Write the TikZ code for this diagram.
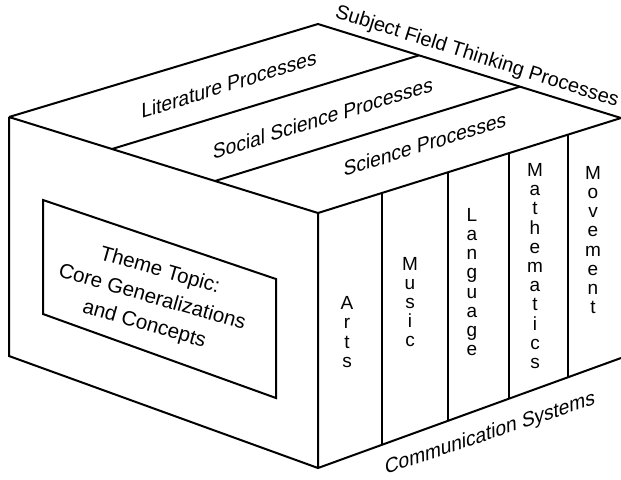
\documentclass[tikz,border=0pt]{standalone}
\usepackage{fontspec}
\setmainfont{Liberation Sans}
\usetikzlibrary{calc}
\tikzset{
	lbl/.style={font=\fontsize{10}{14}\selectfont,inner sep=0pt},
	onface/.style={lbl,rotate=#1,xslant=.3},
	col/.style={font=\fontsize{9.5}{9.6}\selectfont,align=center,inner sep=0pt},
}
\begin{document}
\begin{tikzpicture}[x=0.5pt,y=-0.5pt,line width=1pt]
	\useasboundingbox (0,0) rectangle (621,479);
	% corners of the block
	\coordinate (T) at (318,24); \coordinate (L) at (9,117); \coordinate (F) at (318,213); \coordinate (R) at (621,118);
	\coordinate (LB) at (9,356); \coordinate (FB) at (318,468); \coordinate (RB) at (621,358);
	\draw (L)--(T)--(R) (L)--(F)--(R) (L)--(LB)--(FB)--(RB) (F)--(FB);
	% top face in three strips, front face in five columns
	\draw ($(L)!1/3!(F)$)--($(T)!1/3!(R)$) ($(L)!2/3!(F)$)--($(T)!2/3!(R)$);
	\foreach \t in {.212,.430,.629,.825}
		\draw ($(F)!\t!(R)$)--($(FB)!\t!(RB)$);
	% inner panel on the left face
	\draw (43,200)--(276,279)--(276,398)--(43,314)--cycle;
	\node[lbl,font=\fontsize{10.3}{14}\selectfont,rotate=-16,align=center] (theme) at (152,298) {Theme Topic:\\Core Generalizations\\and Concepts};
	\node[lbl,rotate=-17.5] (subj) at (477,57) {Subject Field Thinking Processes};
	\node[onface=17.3] (lit) at (229,84) {Literature Processes};
	\node[onface=17.3] (soc) at (323,118) {Social Science Processes};
	\node[onface=17.3] (sci) at (425,144) {Science Processes};
	\node[onface=18.5] (comm) at (490,434) {Communication Systems};
	\node[col] (arts) at (347,332) {A\\r\\t\\s};
	\node[col] (music) at (410,302) {M\\u\\s\\i\\c};
	\node[col] (lang) at (472,282) {L\\a\\n\\g\\u\\a\\g\\e};
	\node[col] (math) at (535,266) {M\\a\\t\\h\\e\\m\\a\\t\\i\\c\\s};
	\node[col] (move) at (593,240) {M\\o\\v\\e\\m\\e\\n\\t};
\end{tikzpicture}
\end{document}
